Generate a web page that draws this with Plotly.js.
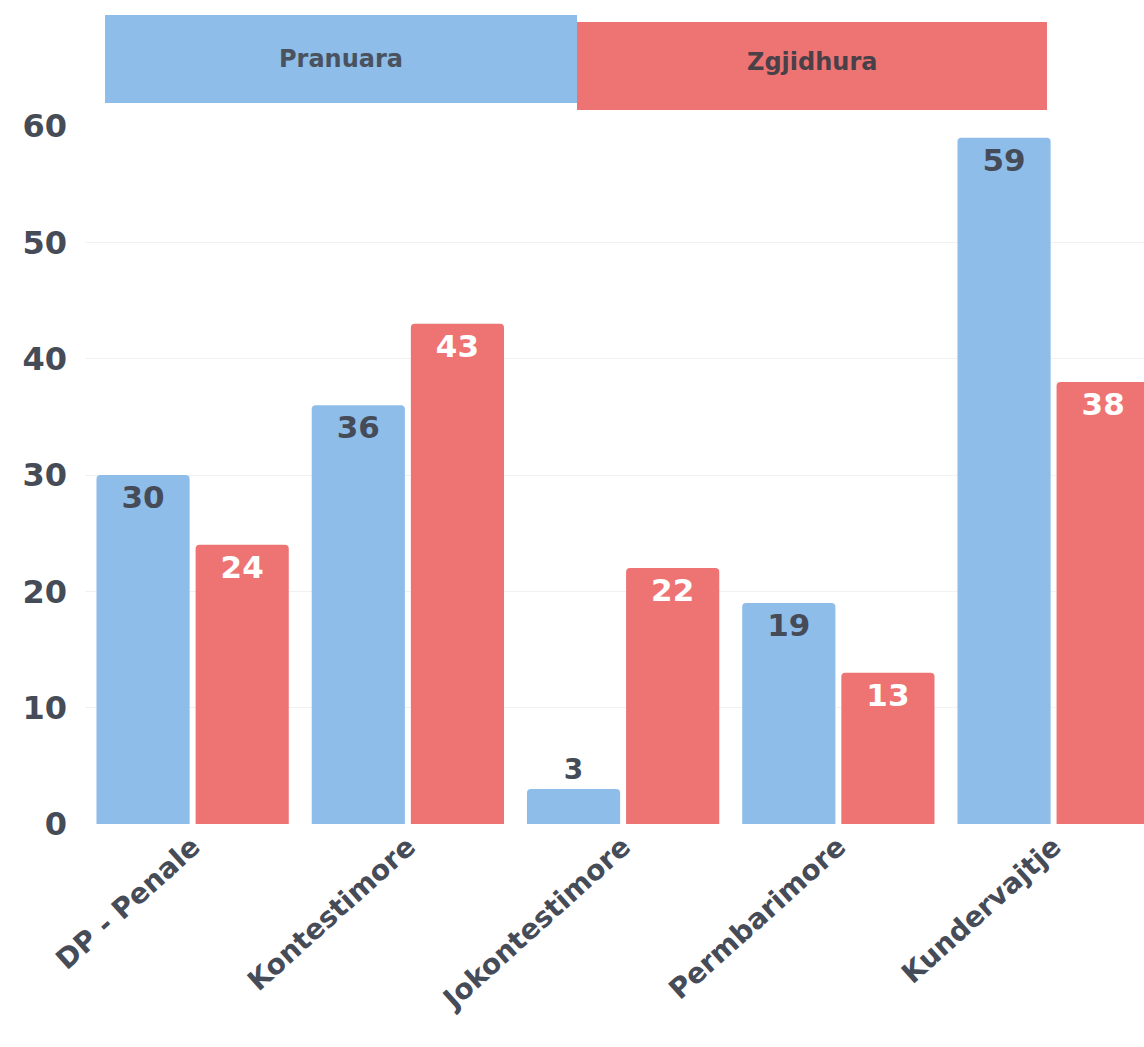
<!DOCTYPE html>
<html>
<head>
<meta charset="utf-8">
<script src="https://cdn.plot.ly/plotly-3.0.1.min.js"></script>
<style>html,body{margin:0;padding:0;background:#fff;}#chart{width:1144px;height:1047px;}</style>
</head>
<body>
<div id="chart"></div>
<script>
const categories = ["DP - Penale", "Kontestimore", "Jokontestimore", "Permbarimore", "Kundervajtje"];
const seriesNames = ["Pranuara", "Zgjidhura"];
const pranuara = [30, 36, 3, 19, 59];
const zgjidhura = [24, 43, 22, 13, 38];
const yTicks = [0, 10, 20, 30, 40, 50, 60];

const blue = "#8ebde9";
const red = "#ee7474";
const textDark = "#464b58";
const numFont = "'DejaVu Sans', sans-serif";
const labFont = "'DejaVu Sans', sans-serif";

const traces = [
  {
    type: "bar", name: seriesNames[0], x: categories, y: pranuara,
    marker: {color: blue, cornerradius: 4},
    text: pranuara.map(String),
    textposition: pranuara.map(v => v < 8 ? "outside" : "inside"),
    insidetextanchor: "end",
    textangle: 0,
    textfont: {family: numFont, size: 31, weight: 700, color: textDark},
    outsidetextfont: {family: numFont, size: 28, weight: 700, color: textDark},
    insidetextfont: {family: numFont, size: 31, weight: 700, color: textDark},
    cliponaxis: false
  },
  {
    type: "bar", name: seriesNames[1], x: categories, y: zgjidhura,
    marker: {color: red, cornerradius: 4},
    text: zgjidhura.map(String),
    textposition: "inside",
    insidetextanchor: "end",
    textangle: 0,
    textfont: {family: numFont, size: 31, weight: 700, color: "#ffffff"},
    insidetextfont: {family: numFont, size: 31, weight: 700, color: "#ffffff"},
    cliponaxis: false
  }
];

const layout = {
  width: 1144, height: 1047,
  margin: {l: 85, r: 0, t: 126, b: 223},
  paper_bgcolor: "#ffffff", plot_bgcolor: "#ffffff",
  showlegend: false,
  barmode: "group",
  bargap: 0.079,
  bargroupgap: 0.06,
  xaxis: {
    type: "category",
    range: [-0.5, 4.42],
    tickangle: -42,
    tickfont: {family: labFont, size: 28, weight: 700, color: textDark},
    showgrid: false, zeroline: false, showline: false,
    ticks: "", ticklen: 0
  },
  yaxis: {
    range: [0, 60],
    tickvals: yTicks,
    ticktext: yTicks.map(String),
    tickfont: {family: numFont, size: 32, weight: 700, color: textDark},
    showgrid: true, gridcolor: "#f1f1f1", gridwidth: 1,
    zeroline: false, showline: false, ticks: "",
    ticklabelstandoff: 17
  },
  shapes: [
    {type: "rect", xref: "paper", yref: "paper", x0: 0.0189, x1: 0.4646, y0: 1.033, y1: 1.159,
     fillcolor: blue, line: {width: 0}, layer: "above"},
    {type: "rect", xref: "paper", yref: "paper", x0: 0.4646, x1: 0.9084, y0: 1.023, y1: 1.149,
     fillcolor: red, line: {width: 0}, layer: "above"}
  ],
  annotations: [
    {xref: "paper", yref: "paper", x: 0.2418, y: 1.096, xanchor: "center", yanchor: "middle",
     text: seriesNames[0], showarrow: false,
     font: {family: labFont, size: 24, weight: 700, color: "#4a5260"}},
    {xref: "paper", yref: "paper", x: 0.6865, y: 1.091, xanchor: "center", yanchor: "middle",
     text: seriesNames[1], showarrow: false,
     font: {family: labFont, size: 24, weight: 700, color: "#4a4048"}}
  ]
};

Plotly.newPlot("chart", traces, layout, {displayModeBar: false, staticPlot: true});
</script>
</body>
</html>
